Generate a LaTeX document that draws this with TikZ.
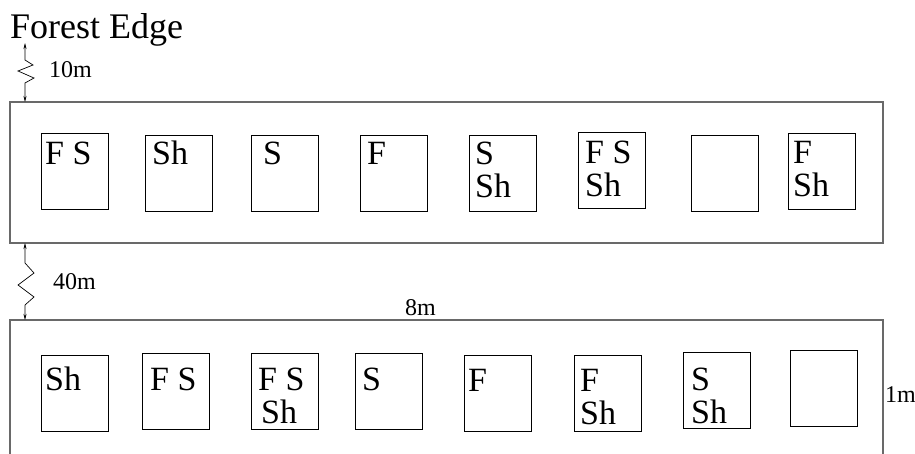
\documentclass[tikz,border=0pt]{standalone}
\usepackage{fontspec}
\setmainfont{Liberation Serif}
\usetikzlibrary{arrows.meta,calc}
\begin{document}
\begin{tikzpicture}[x=1pt,y=-1pt,
  strip/.style={draw={rgb,255:red,105;green,105;blue,105},line width=1.3pt},
  cell/.style={draw=black,line width=0.9pt,minimum width=67pt,minimum height=76pt,inner sep=0pt},
  lbl/.style={anchor=base west,inner sep=0pt,align=left,font=\fontsize{34}{33}\selectfont},
  dim/.style={anchor=base west,inner sep=0pt,font=\fontsize{24}{26}\selectfont},
  zig/.style={draw=black,line width=0.7pt,{Stealth[length=6pt,width=3pt]}-{Stealth[length=6pt,width=3pt]}}]
\useasboundingbox (0,0) rectangle (915,454);
% strips
\draw[strip] (10,102) rectangle (883,243);
\draw[strip] (10,454) -- (10,320) -- (883,320) -- (883,454);
% title
\node[anchor=base west,inner sep=0pt,font=\fontsize{36}{40}\selectfont] (fe) at (10,39) {Forest Edge};
% top row cells
\node[cell] (t1) at (74.5,171.5) {};
\node[cell] (t2) at (179,173) {};
\node[cell] (t3) at (284.5,173) {};
\node[cell] (t4) at (394,173) {};
\node[cell] (t5) at (503,173) {};
\node[cell] (t6) at (612,170.5) {};
\node[cell] (t7) at (725,173) {};
\node[cell] (t8) at (822,171) {};
% bottom row cells
\node[cell] (b1) at (74.5,393) {};
\node[cell] (b2) at (175.5,391.5) {};
\node[cell] (b3) at (284.5,391.5) {};
\node[cell] (b4) at (389,391.5) {};
\node[cell] (b5) at (497.5,393.5) {};
\node[cell] (b6) at (608,393.5) {};
\node[cell] (b7) at (716.5,390) {};
\node[cell] (b8) at (824,388.5) {};
% top labels (anchor = baseline of the last line)
\node[lbl] (lt1) at (45,165) {F S};
\node[lbl] (lt2) at (152,165) {Sh};
\node[lbl] (lt3) at (263,165) {S};
\node[lbl] (lt4) at (367,165) {F};
\node[lbl] (lt5) at (475,198) {S\\Sh};
\node[lbl] (lt6) at (585,197) {F S\\Sh};
\node[lbl] (lt8) at (793,197) {F\\Sh};
% bottom labels
\node[lbl] (lb1) at (45,390) {Sh};
\node[lbl] (lb2) at (150,390) {F S};
\node[lbl] (lb3) at (258,423) {F S\\\hspace{3pt}Sh};
\node[lbl] (lb4) at (362,390) {S};
\node[lbl] (lb5) at (468,391) {F};
\node[lbl] (lb6) at (580,424) {F\\Sh};
\node[lbl] (lb7) at (691,423) {S\\Sh};
% dimension labels
\node[dim] (d10) at (49,78) {10m};
\node[dim] (d40) at (53,290) {40m};
\node[dim] (d8) at (405,315) {8m};
\node[dim] (d1) at (885,402) {1m};
% zigzag arrows
\coordinate (a1s) at (25,43);
\coordinate (a1e) at (25,102);
\coordinate (a2s) at (25,243);
\coordinate (a2e) at (25,320);
\draw[zig] (a1s) -- (25,60) -- (33,65) -- (18,71) -- (34,78) -- (25,83) -- (a1e);
\draw[zig] (a2s) -- (25,263) -- (34,273) -- (18,285) -- (34,297) -- (25,305) -- (a2e);
\end{tikzpicture}
\end{document}
